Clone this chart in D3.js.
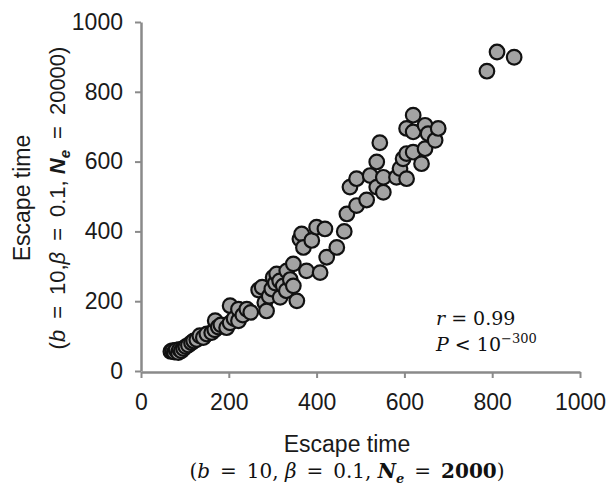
<!DOCTYPE html>
<html>
<head>
<meta charset="utf-8">
<script src="https://cdn.jsdelivr.net/npm/d3@7"></script>
<style>
  html, body { margin: 0; padding: 0; background: #fff; }
  svg { display: block; }
</style>
</head>
<body>
<div id="chart"></div>
<script>
// Escape times for the same runs under two effective population sizes
const escapeNe2000 = [
  68, 72, 76, 80, 85, 88, 92, 97, 102, 108, 115, 120, 127, 134, 142, 150, 161, 168, 169, 176,
  182, 195, 203, 203, 212, 222, 222, 232, 241, 250,
  268, 276, 282, 286, 292, 298, 301, 306, 309, 316, 317, 324, 331, 332, 340, 347, 347, 355,
  362, 366, 370, 377, 389, 400, 408, 419, 423, 446, 463,
  469, 476, 491, 491, 514, 522, 537, 537, 544, 552, 552, 582, 590, 597, 605, 605, 605, 620,
  620, 620, 639, 647, 647, 654, 670, 677,
  788, 811, 850
];
const escapeNe20000 = [
  56, 58, 54, 60, 53, 62, 58, 64, 70, 74, 81, 86, 90, 101, 96, 106, 110, 118, 144, 126,
  132, 124, 138, 187, 150, 144, 177, 160, 177, 168,
  232, 240, 196, 172, 214, 235, 268, 252, 278, 258, 211, 244, 230, 287, 262, 244, 307, 201,
  378, 393, 354, 287, 374, 412, 282, 407, 326, 354, 400,
  450, 527, 474, 551, 490, 560, 527, 599, 654, 512, 555, 555, 580, 608, 551, 623, 695, 627,
  685, 733, 594, 637, 704, 680, 661, 695,
  859, 914, 899
];
const tickValues = [0, 200, 400, 600, 800, 1000];
const statR = "0.99";
const statPExp = "\u2212300";

const width = 608, height = 488;
const svg = d3.select("#chart").append("svg")
  .attr("width", width).attr("height", height);

const x = d3.scaleLinear().domain([0, 1000]).range([141, 580]);
const y = d3.scaleLinear().domain([0, 1000]).range([371, 22]);

const axisColor = "#8a8a8a";
const tickFont = "'Liberation Sans', Arial, sans-serif";
const serif = "'DejaVu Serif', 'Liberation Serif', serif";
const fmt = d3.format("d");
const EQ = "\u2002=\u2002";

// y axis
const gy = svg.append("g").attr("transform", `translate(${x(0)},0)`)
  .call(d3.axisLeft(y).tickValues(tickValues).tickFormat(fmt)
    .tickSize(6).tickPadding(12).tickSizeOuter(0));
// x axis
const gx = svg.append("g").attr("transform", `translate(0,${y(0) + 1})`)
  .call(d3.axisBottom(x).tickValues(tickValues).tickFormat(fmt)
    .tickSize(6).tickPadding(16).tickSizeOuter(0));

[gx, gy].forEach(g => {
  g.select(".domain").attr("stroke", axisColor).attr("stroke-width", 2.5);
  g.selectAll(".tick line").attr("stroke", axisColor).attr("stroke-width", 2);
  g.selectAll(".tick text")
    .attr("fill", "#1a1a1a")
    .style("font-family", tickFont)
    .style("font-size", "23px");
});

// points
const pts = escapeNe2000.map((v, i) => ({ a: v, b: escapeNe20000[i] }));
svg.append("g").selectAll("circle").data(pts).join("circle")
  .attr("cx", d => x(d.a))
  .attr("cy", d => y(d.b))
  .attr("r", 7.3)
  .attr("fill", "#a3a3a3")
  .attr("stroke", "#111")
  .attr("stroke-width", 2.2);

// statistics annotation
const ann = svg.append("g").style("font-family", serif).style("font-size", "19px").attr("fill", "#111");
const t1 = ann.append("text").attr("x", 436).attr("y", 325);
t1.append("tspan").style("font-style", "italic").text("r");
t1.append("tspan").text(" = " + statR);
const t2 = ann.append("text").attr("x", 436).attr("y", 351);
t2.append("tspan").style("font-style", "italic").text("P");
t2.append("tspan").text(" < 10");
t2.append("tspan").attr("dy", -8).style("font-size", "13px").text(statPExp);

// x axis title
svg.append("text")
  .attr("x", 347).attr("y", 452)
  .attr("text-anchor", "middle")
  .style("font-family", tickFont).style("font-size", "23px")
  .attr("fill", "#1a1a1a")
  .text("Escape time");
const xl = svg.append("text")
  .attr("x", 347).attr("y", 478)
  .attr("text-anchor", "middle")
  .style("font-family", serif).style("font-size", "20px")
  .attr("fill", "#111");
xl.append("tspan").text("(");
xl.append("tspan").style("font-style", "italic").text("b");
xl.append("tspan").text(EQ + "10, ");
xl.append("tspan").style("font-style", "italic").text("\u03B2");
xl.append("tspan").text(EQ + "0.1, ");
xl.append("tspan").style("font-style", "italic").style("font-weight", "bold").text("N");
xl.append("tspan").attr("dy", 5).style("font-size", "13px").style("font-style", "italic").style("font-weight", "bold").text("e");
xl.append("tspan").attr("dy", -5).text(EQ);
xl.append("tspan").style("font-weight", "bold").text("2000");
xl.append("tspan").text(")");

// y axis title
const yg = svg.append("g").attr("transform", "translate(0,198) rotate(-90)");
yg.append("text")
  .attr("x", 0).attr("y", 30)
  .attr("text-anchor", "middle")
  .style("font-family", tickFont).style("font-size", "23px")
  .attr("fill", "#1a1a1a")
  .text("Escape time");
const yl = yg.append("text")
  .attr("x", 0).attr("y", 65)
  .attr("text-anchor", "middle")
  .style("font-family", tickFont).style("font-size", "22px")
  .attr("fill", "#1a1a1a");
yl.append("tspan").text("(");
yl.append("tspan").style("font-style", "italic").text("b");
yl.append("tspan").text(EQ + "10,");
yl.append("tspan").style("font-style", "italic").text("\u03B2");
yl.append("tspan").text(EQ + "0.1, ");
yl.append("tspan").style("font-style", "italic").style("font-weight", "bold").text("N");
yl.append("tspan").attr("dy", 5).style("font-size", "15px").style("font-style", "italic").style("font-weight", "bold").text("e");
yl.append("tspan").attr("dy", -5).text(EQ + "20000)");
</script>
</body>
</html>
